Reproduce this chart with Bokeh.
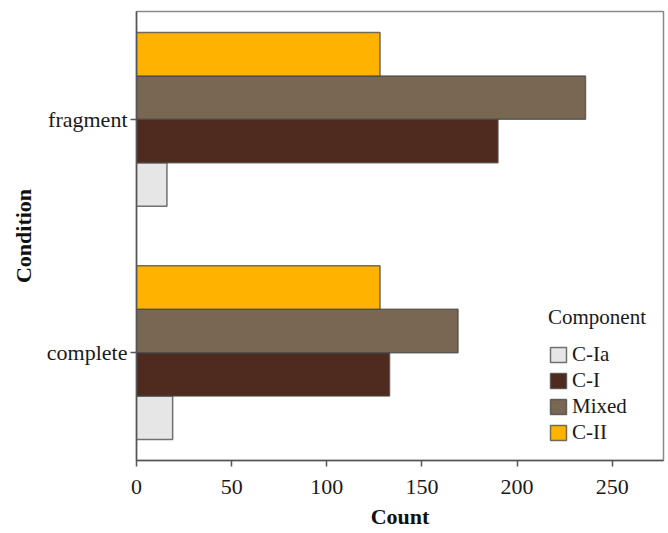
from bokeh.plotting import figure
from bokeh.models import FactorRange, Range1d, ColumnDataSource, Legend, LegendItem, FixedTicker
from bokeh.transform import dodge
from bokeh.embed import file_html
from bokeh.resources import INLINE

conditions = ["complete", "fragment"]
components = ["C-Ia", "C-I", "Mixed", "C-II"]
c_ia = [19, 16]
c_i = [133, 190]
mixed = [169, 236]
c_ii = [128, 128]
x_ticks = [0, 50, 100, 150, 200, 250]

colors = {"C-Ia": "#E6E6E6", "C-I": "#4F2A1E", "Mixed": "#7A6753", "C-II": "#FFB300"}
offsets = {"C-Ia": -0.279, "C-I": -0.093, "Mixed": 0.093, "C-II": 0.279}

src = ColumnDataSource(dict(cond=conditions, **{"C-Ia": c_ia, "C-I": c_i, "Mixed": mixed, "C-II": c_ii}))

FONT = "Liberation Serif"

p = figure(width=666, height=531, output_backend="svg", toolbar_location=None,
           y_range=FactorRange(factors=conditions, range_padding=-0.038),
           x_range=Range1d(0, 277),
           min_border_left=136, min_border_right=3, min_border_top=11, min_border_bottom=68)

renderers = {}
for comp in components:
    r = p.hbar(y=dodge("cond", offsets[comp], range=p.y_range), right=comp, left=0, height=0.186,
               source=src, fill_color=colors[comp], line_color="#454545", line_alpha=0.75,
               line_width=1.5)
    renderers[comp] = r

p.xgrid.visible = False
p.ygrid.visible = False
p.outline_line_color = "#8a8a8a"
p.outline_line_width = 1.5

p.xaxis.ticker = FixedTicker(ticks=x_ticks)
p.xaxis.minor_tick_line_color = None
for ax in (p.xaxis[0], p.yaxis[0]):
    ax.axis_line_color = "#555555"
    ax.axis_line_width = 1.5
    ax.major_tick_line_color = "#555555"
    ax.major_tick_line_width = 1.5
    ax.major_tick_out = 6
    ax.major_tick_in = 0
    ax.major_label_text_font = FONT
    ax.major_label_text_font_size = "22px"
    ax.major_label_text_color = "#1a1a1a"
    ax.axis_label_text_font = FONT
    ax.axis_label_text_font_size = "22px"
    ax.axis_label_text_font_style = "bold"
    ax.axis_label_text_color = "#111111"

p.xaxis.axis_label = "Count"
p.yaxis.axis_label = "Condition"
p.xaxis.major_label_standoff = 13
p.yaxis.major_label_standoff = 3
p.xaxis.axis_label_standoff = 7
p.yaxis.axis_label_standoff = 8

legend = Legend(items=[LegendItem(label=c, renderers=[renderers[c]]) for c in components],
                location=(407, 10), title="Component",
                title_text_font=FONT, title_text_font_size="21px", title_text_font_style="normal",
                title_text_color="#1a1a1a",
                label_text_font=FONT, label_text_font_size="21px", label_text_color="#1a1a1a",
                glyph_width=20, glyph_height=19, label_height=19, spacing=1, label_standoff=4,
                padding=5, background_fill_alpha=0, border_line_alpha=0, title_standoff=12)
p.add_layout(legend, "center")

open("out.html", "w").write(file_html(p, INLINE))
